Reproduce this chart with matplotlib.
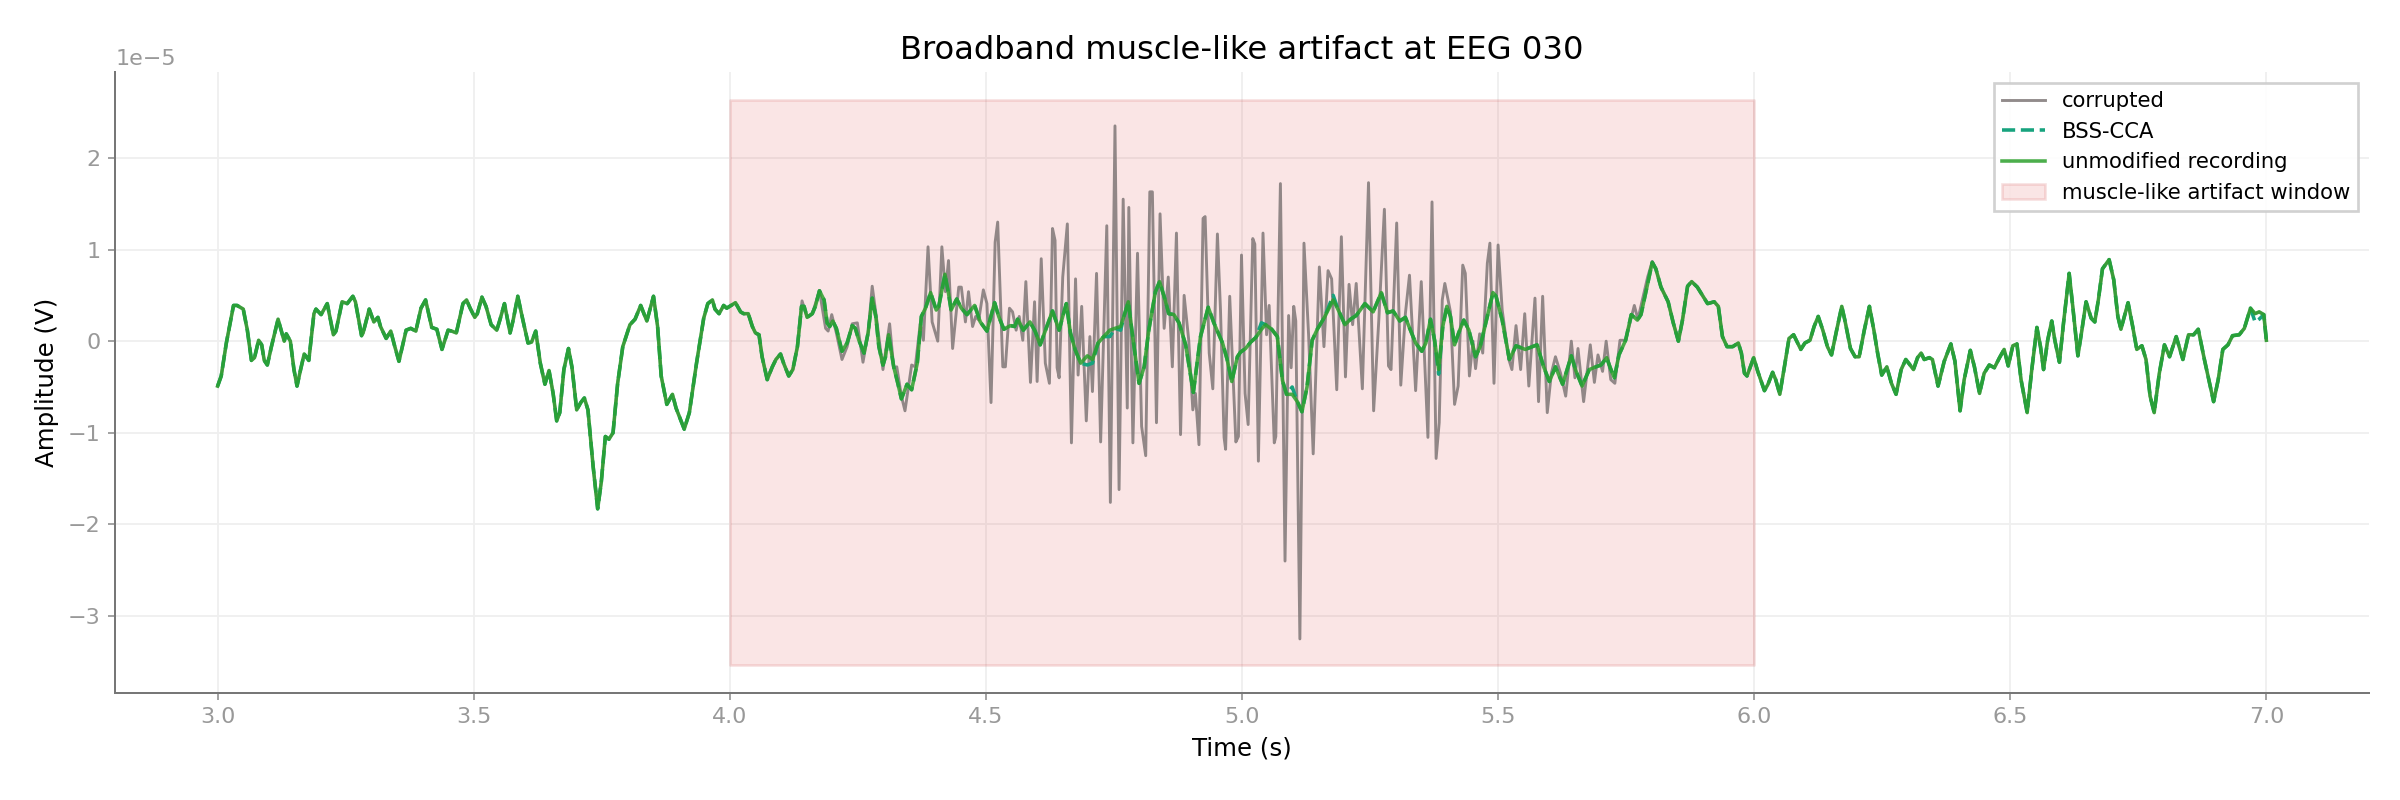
import numpy as np
import matplotlib
matplotlib.use("Agg")
import matplotlib.pyplot as plt

# amplitudes below are in units of 1e-5 V
SCALE = 1e-5

# unmodified recording (time s, amplitude)
clean_t = [
    3.0, 3.007, 3.017, 3.031, 3.038, 3.05, 3.058, 3.066, 3.072, 3.08, 3.086, 3.091, 3.097, 3.105,
    3.118, 3.13, 3.134, 3.142, 3.149, 3.155, 3.162, 3.169, 3.178, 3.188, 3.192, 3.202, 3.214, 3.226,
    3.231, 3.243, 3.253, 3.264, 3.269, 3.281, 3.284, 3.296, 3.305, 3.313, 3.318, 3.329, 3.338, 3.345,
    3.354, 3.368, 3.377, 3.387, 3.397, 3.406, 3.418, 3.428, 3.438, 3.45, 3.457, 3.466, 3.479, 3.486,
    3.493, 3.502, 3.507, 3.516, 3.524, 3.534, 3.545, 3.551, 3.56, 3.571, 3.577, 3.586, 3.596, 3.606,
    3.613, 3.621, 3.63, 3.639, 3.647, 3.655, 3.662, 3.668, 3.676, 3.685, 3.692, 3.701, 3.709, 3.716,
    3.723, 3.733, 3.742, 3.749, 3.757, 3.764, 3.772, 3.781, 3.791, 3.805, 3.815, 3.826, 3.838, 3.851,
    3.859, 3.866, 3.877, 3.888, 3.895, 3.911, 3.921, 3.935, 3.949, 3.957, 3.966, 3.971,
    3.979, 3.988, 3.994, 4.011, 4.021, 4.027, 4.036, 4.044, 4.05, 4.057, 4.063, 4.073, 4.083, 4.09,
    4.099, 4.105, 4.115, 4.123, 4.132, 4.14, 4.145, 4.151, 4.161, 4.167, 4.175, 4.184, 4.19, 4.195,
    4.201, 4.208, 4.219, 4.229, 4.239, 4.245, 4.252, 4.262, 4.27, 4.278, 4.285, 4.291, 4.299, 4.304,
    4.31, 4.32, 4.328, 4.335, 4.346, 4.355, 4.366, 4.374, 4.382, 4.392, 4.403, 4.408, 4.42, 4.427,
    4.432, 4.443, 4.452, 4.463, 4.478, 4.489, 4.502, 4.517, 4.525, 4.535, 4.548, 4.556, 4.562, 4.573,
    4.586, 4.596, 4.606, 4.619, 4.63, 4.643,
    4.65, 4.657, 4.665, 4.674, 4.685, 4.698, 4.708, 4.719, 4.73, 4.742, 4.752, 4.763, 4.771, 4.778,
    4.787, 4.799, 4.809, 4.818, 4.831, 4.839, 4.85, 4.857, 4.867, 4.877, 4.89, 4.905, 4.919, 4.934,
    4.945, 4.962, 4.971, 4.98, 4.991,
    4.997, 5.007, 5.017, 5.027, 5.038, 5.046, 5.058, 5.069, 5.079, 5.087, 5.098, 5.108, 5.117, 5.127,
    5.137, 5.147, 5.161, 5.178, 5.188, 5.201, 5.212, 5.223, 5.24, 5.256, 5.272, 5.284, 5.295, 5.308,
    5.319,
    5.326, 5.339, 5.351, 5.359, 5.368, 5.376, 5.384, 5.392, 5.4, 5.407, 5.415, 5.423, 5.433, 5.443,
    5.456, 5.465, 5.479, 5.49, 5.496, 5.508, 5.522, 5.535, 5.553, 5.576, 5.589, 5.6, 5.612, 5.626,
    5.643, 5.651,
    5.664, 5.678, 5.691, 5.701, 5.712, 5.719, 5.727, 5.736, 5.749, 5.76, 5.772, 5.779, 5.792, 5.801,
    5.808, 5.818, 5.832, 5.842, 5.852, 5.86, 5.87, 5.878, 5.889, 5.899, 5.909, 5.922, 5.93, 5.938,
    5.947, 5.958, 5.969, 5.975,
    5.981, 5.986, 5.999, 6.007, 6.02, 6.027, 6.036, 6.042, 6.05, 6.059, 6.068, 6.077, 6.085, 6.091,
    6.099, 6.109, 6.117, 6.125, 6.134, 6.143, 6.151, 6.161, 6.171, 6.177, 6.188, 6.197, 6.205, 6.215,
    6.225, 6.234, 6.241, 6.249, 6.259, 6.268, 6.277, 6.287, 6.296, 6.303, 6.311, 6.319, 6.326, 6.332,
    6.342, 6.348, 6.359, 6.371, 6.384, 6.392, 6.402, 6.41, 6.422, 6.43, 6.44, 6.449, 6.459, 6.469,
    6.479,
    6.488, 6.496, 6.505, 6.513, 6.521, 6.533, 6.542, 6.552, 6.559, 6.565, 6.573, 6.581, 6.587, 6.596,
    6.604, 6.615, 6.622, 6.632, 6.639, 6.648, 6.658, 6.665, 6.672, 6.68, 6.693, 6.702, 6.71, 6.716,
    6.73, 6.739, 6.747, 6.757, 6.765, 6.773, 6.781, 6.791, 6.801, 6.811, 6.824, 6.837, 6.848, 6.858,
    6.867, 6.879, 6.897, 6.906, 6.915, 6.925, 6.934, 6.947, 6.957, 6.969, 6.978, 6.986, 6.995, 7.0,
]
clean_v = [
    -0.49, -0.38, -0.02, 0.39, 0.39, 0.35, 0.12, -0.21, -0.18, 0.01, -0.04, -0.21, -0.26, -0.06,
    0.24, 0.0, 0.08, 0.0, -0.31, -0.49, -0.31, -0.14, -0.21, 0.30, 0.35, 0.29, 0.41, 0.07,
    0.11, 0.43, 0.41, 0.49, 0.43, 0.06, 0.09, 0.35, 0.21, 0.26, 0.16, 0.03, 0.11, -0.04,
    -0.22, 0.12, 0.14, 0.11, 0.36, 0.45, 0.15, 0.13, -0.09, 0.12, 0.11, 0.09, 0.41, 0.45,
    0.36, 0.26, 0.30, 0.48, 0.38, 0.18, 0.12, 0.23, 0.41, 0.09, 0.23, 0.49, 0.23, -0.02,
    -0.01, 0.11, -0.24, -0.47, -0.32, -0.57, -0.87, -0.78, -0.31, -0.08, -0.29, -0.75, -0.67, -0.62,
    -0.75, -1.36, -1.83, -1.54, -1.04, -1.07, -1.0, -0.46, -0.06, 0.18, 0.24, 0.39, 0.22, 0.49,
    0.16, -0.38, -0.69, -0.58, -0.73, -0.96, -0.78, -0.24, 0.25, 0.41, 0.45, 0.35,
    0.30, 0.39, 0.36, 0.42, 0.32, 0.30, 0.30, 0.16, 0.09, 0.07, -0.17, -0.42, -0.28, -0.20,
    -0.14, -0.24, -0.38, -0.31, -0.06, 0.38, 0.38, 0.26, 0.30, 0.38, 0.55, 0.45, 0.20, 0.16,
    0.22, 0.14, -0.11, -0.02, 0.17, 0.14, 0.01, -0.13, 0.09, 0.47, 0.27, -0.06, -0.26, -0.17,
    0.07, -0.28, -0.46, -0.63, -0.47, -0.53, -0.24, 0.27, 0.36, 0.53, 0.34, 0.38, 0.73, 0.52,
    0.34, 0.46, 0.36, 0.29, 0.39, 0.21, 0.11, 0.42, 0.27, 0.13, 0.17, 0.16, 0.24, 0.12,
    0.21, 0.11, -0.04, 0.16, 0.33, 0.12,
    0.27, 0.41, 0.09, -0.09, -0.24, -0.16, -0.20, -0.02, 0.05, 0.12, 0.14, 0.16, 0.30, 0.43,
    0.03, -0.46, -0.28, 0.12, 0.54, 0.65, 0.45, 0.30, 0.29, 0.20, -0.04, -0.56, 0.05, 0.37,
    0.20, -0.02, -0.20, -0.44, -0.17,
    -0.12, -0.08, -0.01, 0.04, 0.13, 0.18, 0.13, 0.05, -0.43, -0.58, -0.58, -0.66, -0.77, -0.50,
    0.01, 0.13, 0.26, 0.45, 0.34, 0.18, 0.24, 0.28, 0.41, 0.32, 0.53, 0.31, 0.33, 0.22,
    0.26,
    0.16, -0.02, -0.11, -0.02, 0.24, 0.01, -0.31, 0.16, 0.38, 0.27, -0.04, 0.09, 0.23, 0.12,
    -0.17, -0.06, 0.27, 0.53, 0.49, 0.23, -0.20, -0.05, -0.09, -0.04, -0.28, -0.44, -0.28, -0.47,
    -0.16, -0.31,
    -0.49, -0.31, -0.28, -0.26, -0.18, -0.29, -0.40, -0.15, 0.01, 0.29, 0.23, 0.29, 0.63, 0.86,
    0.79, 0.59, 0.43, 0.20, 0.0, 0.23, 0.60, 0.65, 0.59, 0.50, 0.41, 0.43, 0.38, 0.05,
    -0.06, -0.06, -0.02, -0.13,
    -0.35, -0.38, -0.18, -0.33, -0.54, -0.47, -0.34, -0.42, -0.58, -0.28, 0.03, 0.07, -0.02, -0.09,
    -0.02, 0.01, 0.16, 0.27, 0.12, -0.06, -0.15, 0.12, 0.38, 0.23, -0.08, -0.17, -0.17, 0.12,
    0.38, 0.11, -0.13, -0.37, -0.28, -0.46, -0.58, -0.31, -0.20, -0.25, -0.31, -0.18, -0.13, -0.20,
    -0.18, -0.20, -0.49, -0.22, -0.03, -0.22, -0.76, -0.42, -0.10, -0.28, -0.57, -0.35, -0.26, -0.29,
    -0.18,
    -0.09, -0.27, -0.05, -0.03, -0.42, -0.78, -0.31, 0.15, -0.06, -0.31, 0.01, 0.22, 0.01, -0.23,
    0.20, 0.74, 0.38, -0.16, 0.09, 0.43, 0.25, 0.21, 0.45, 0.79, 0.89, 0.67, 0.27, 0.13,
    0.42, 0.16, -0.09, -0.05, -0.20, -0.60, -0.78, -0.35, -0.04, -0.17, 0.05, -0.20, 0.07, 0.07,
    0.13, -0.20, -0.66, -0.42, -0.09, -0.04, 0.06, 0.07, 0.14, 0.36, 0.30, 0.32, 0.29, 0.01,
]

# corrupted trace inside the burst (outside it the trace equals the recording)
corr_t = [
    4.132, 4.141, 4.151, 4.161, 4.175, 4.187, 4.192, 4.199, 4.208, 4.219, 4.229, 4.239, 4.249, 4.26,
    4.27, 4.278, 4.286, 4.299, 4.312, 4.32, 4.326, 4.335, 4.342, 4.355, 4.362, 4.372, 4.378, 4.387,
    4.395, 4.406, 4.414, 4.421, 4.427, 4.435, 4.447, 4.452, 4.46, 4.466, 4.474, 4.48, 4.486, 4.495,
    4.502, 4.51, 4.518, 4.523, 4.533, 4.538, 4.546, 4.552, 4.559, 4.565, 4.572, 4.578, 4.587, 4.595,
    4.6, 4.608, 4.616, 4.624, 4.63, 4.635, 4.639, 4.643, 4.65, 4.659, 4.667, 4.675, 4.68, 4.687,
    4.696, 4.703, 4.708, 4.716, 4.724, 4.736, 4.743, 4.752, 4.76, 4.768, 4.776, 4.779, 4.787, 4.796,
    4.804, 4.812, 4.82, 4.825, 4.833, 4.84, 4.848, 4.856, 4.864, 4.872, 4.88, 4.887, 4.896, 4.904,
    4.909, 4.916, 4.924, 4.928, 4.936, 4.943, 4.952, 4.958, 4.965, 4.968, 4.976, 4.988, 4.993, 4.999,
    5.006, 5.012, 5.021, 5.025, 5.032, 5.041, 5.048, 5.053, 5.063, 5.066, 5.075, 5.084, 5.091, 5.096,
    5.101, 5.105, 5.113, 5.121, 5.13, 5.139, 5.151, 5.16, 5.168, 5.175, 5.185, 5.194, 5.202, 5.209,
    5.216, 5.223, 5.235, 5.247, 5.257, 5.267, 5.278, 5.286, 5.291, 5.302, 5.31, 5.319, 5.327, 5.339,
    5.35, 5.363, 5.371, 5.379, 5.385, 5.391, 5.396, 5.407, 5.415, 5.422, 5.431, 5.436, 5.444, 5.451,
    5.456, 5.464, 5.47, 5.479, 5.484, 5.492, 5.5, 5.508, 5.521, 5.527, 5.535, 5.544, 5.552, 5.56,
    5.572, 5.579, 5.587, 5.596, 5.604, 5.612, 5.622, 5.632, 5.643, 5.65, 5.656, 5.667, 5.68, 5.688,
    5.695, 5.704, 5.711, 5.72, 5.728, 5.738, 5.749, 5.766, 5.773, 5.792, 5.801,
]
corr_v = [
    -0.06, 0.44, 0.26, 0.30, 0.55, 0.14, 0.11, 0.29, 0.09, -0.20, -0.06, 0.19, 0.20, -0.23,
    0.09, 0.60, 0.27, -0.31, 0.19, -0.29, -0.28, -0.60, -0.76, -0.26, -0.28, 0.20, 0.01, 1.03,
    0.21, 0.0, 1.03, 0.54, 0.88, -0.08, 0.59, 0.59, 0.21, 0.54, 0.16, 0.27, 0.23, 0.56,
    0.41, -0.67, 1.08, 1.30, -0.28, -0.28, 0.36, 0.32, 0.12, 0.27, 0.01, 0.65, -0.45, 0.43,
    -0.44, 0.90, -0.24, -0.46, 1.23, 1.10, -0.29, -0.40, 0.70, 1.28, -1.11, 0.68, -0.37, 0.38,
    -0.87, 0.05, -0.55, 0.74, -1.10, 1.26, -1.76, 2.35, -1.62, 1.55, -0.73, 1.46, -1.11, 0.96,
    -0.93, -1.25, 1.63, 1.63, -0.89, 1.39, 0.14, 0.70, -0.28, 1.18, -1.02, 0.50, 0.01, -0.75,
    -0.57, -1.13, 1.34, 1.36, -0.13, -0.52, 1.17, 0.34, -1.05, -1.18, 0.49, -1.10, -1.04, 0.94,
    -0.57, -0.91, 1.12, 1.06, -1.31, 1.18, 0.07, 0.39, -1.11, -1.04, 1.72, -2.40, 0.28, -0.29,
    0.38, 0.22, -3.25, 1.07, 0.07, -1.23, 0.81, -0.06, 0.77, 0.68, -0.53, 1.14, -0.39, 0.62,
    0.18, 0.63, -0.52, 1.73, -0.76, 0.22, 1.44, -0.27, -0.31, 1.29, -0.48, 0.30, 0.72, -0.54,
    0.65, -1.05, 1.52, -1.28, -0.89, 0.45, 0.63, 0.32, -0.69, -0.49, 0.83, 0.74, -0.38, 0.0,
    -0.30, 0.08, -0.13, 0.85, 1.07, -0.46, 1.05, 0.34, -0.20, -0.31, 0.17, -0.31, 0.30, -0.49,
    0.47, -0.66, 0.49, -0.78, -0.35, -0.17, -0.35, -0.60, 0.0, -0.40, -0.08, -0.66, -0.04, -0.45,
    -0.15, -0.33, 0.0, -0.42, -0.46, 0.01, 0.01, 0.39, 0.24, 0.70, 0.87,
]

# BSS-CCA output: follows the recording except at these points
bss_fix_t = [4.698, 4.708, 4.742, 4.763, 5.038, 5.098, 5.178, 5.384, 6.978, 6.986]
bss_fix_v = [-0.26, -0.24, 0.05, 0.12, 0.20, -0.50, 0.50, -0.36, 0.21, 0.24]

window = (4.0, 6.0)

clean_t = np.array(clean_t)
clean_v = np.array(clean_v)

keep = (clean_t < corr_t[0]) | (clean_t > corr_t[-1])
corrupted_t = np.concatenate([clean_t[keep], corr_t])
corrupted_v = np.concatenate([clean_v[keep], corr_v])
order = np.argsort(corrupted_t)
corrupted_t, corrupted_v = corrupted_t[order], corrupted_v[order]

bss_v = clean_v.copy()
for t, v in zip(bss_fix_t, bss_fix_v):
    bss_v[np.argmin(np.abs(clean_t - t))] = v

fig, ax = plt.subplots(figsize=(15, 5), dpi=160)
fig.subplots_adjust(left=0.048, right=0.987, top=0.91, bottom=0.134)

ax.plot(corrupted_t, corrupted_v * SCALE, color='#7f7777', lw=1.3, alpha=0.85, label='corrupted')
ax.plot(clean_t, bss_v * SCALE, color='#17a37e', lw=1.6, ls='--', label='BSS-CCA')
ax.plot(clean_t, clean_v * SCALE, color='#2ca02c', lw=1.6, alpha=0.85, label='unmodified recording')

lo, hi = min(corrupted_v), max(corrupted_v)
pad = 0.05 * (hi - lo)
ax.fill_between(window, (lo - pad) * SCALE, (hi + pad) * SCALE, facecolor='#e06060',
                edgecolor='#d04040', alpha=0.16, lw=1.2, label='muscle-like artifact window')

ax.set_title('Broadband muscle-like artifact at EEG 030', fontsize=14.5)
ax.set_xlabel('Time (s)', fontsize=11)
ax.set_ylabel('Amplitude (V)', fontsize=11)

ax.grid(True, color='#efefef', lw=0.8)
ax.set_axisbelow(True)
for side in ['top', 'right']:
    ax.spines[side].set_visible(False)
for side in ['left', 'bottom']:
    ax.spines[side].set_color('#777777')
    ax.spines[side].set_linewidth(0.9)
ax.tick_params(colors='#999999', labelsize=10, length=3, width=0.8)
ax.yaxis.get_offset_text().set_color('#999999')
ax.yaxis.get_offset_text().set_fontsize(10)

leg = ax.legend(loc='upper right', fontsize=9.5, fancybox=False, framealpha=0.9,
                edgecolor='#cccccc')
leg.get_frame().set_linewidth(1.2)

plt.savefig('out.png', dpi=160)
